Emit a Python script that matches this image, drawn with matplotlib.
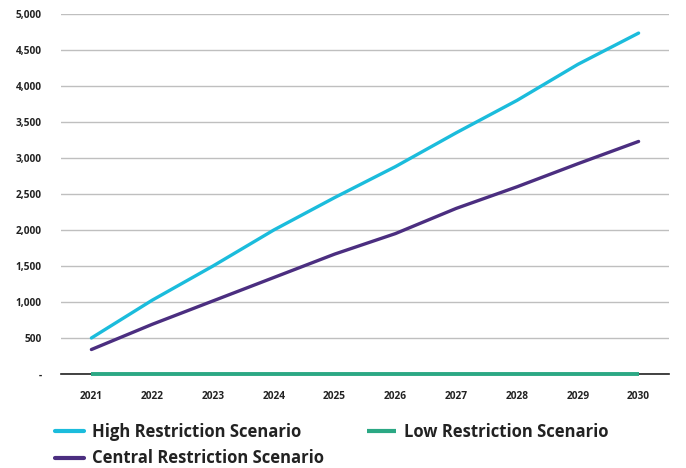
import matplotlib
matplotlib.use("Agg")
import matplotlib.pyplot as plt
from matplotlib.ticker import FuncFormatter

plt.rcParams['font.family'] = ['Open Sans', 'DejaVu Sans']

years = ["2021", "2022", "2023", "2024", "2025", "2026", "2027", "2028", "2029", "2030"]
high = [500, 1025, 1500, 2000, 2450, 2880, 3350, 3800, 4300, 4735]
central = [340, 690, 1015, 1340, 1665, 1950, 2300, 2600, 2920, 3230]
low = [0, 0, 0, 0, 0, 0, 0, 0, 0, 0]

c_high = "#1BBCDC"
c_central = "#4B2E80"
c_low = "#2BA884"

fig = plt.figure(figsize=(6.86, 4.68), dpi=100)
ax = fig.add_axes([61 / 686, 1 - 374 / 468, (669 - 61) / 686, (374 - 14) / 468])

x = list(range(len(years)))
l_high, = ax.plot(x, high, color=c_high, lw=2.4, solid_capstyle="round", zorder=3)
l_central, = ax.plot(x, central, color=c_central, lw=2.4, solid_capstyle="round", zorder=3)
l_low, = ax.plot(x, low, color=c_low, lw=2.8, solid_capstyle="butt", zorder=4, clip_on=False)

ax.set_xlim(-0.5, len(years) - 0.5)
ax.set_ylim(0, 5000)
ax.set_yticks(range(0, 5001, 500))
ax.yaxis.set_major_formatter(FuncFormatter(lambda v, p: "-" if v == 0 else f"{int(v):,}"))
ax.set_xticks(x)
ax.set_xticklabels(years)

ax.grid(axis="y", color="#BFBFBF", lw=1)
ax.set_axisbelow(True)
for s in ["top", "right", "left"]:
    ax.spines[s].set_visible(False)
ax.spines["bottom"].set_color("#222222")
ax.spines["bottom"].set_linewidth(1.2)
ax.spines["bottom"].set_zorder(2)

ax.tick_params(axis="both", length=0, labelsize=7.3, colors="#222222")
ax.tick_params(axis="y", pad=14)
ax.tick_params(axis="x", pad=12)
for t in ax.get_xticklabels() + ax.get_yticklabels():
    t.set_fontweight("bold")

leg = fig.legend([l_high, l_central, l_low],
                 ["High Restriction Scenario", "Central Restriction Scenario", "Low Restriction Scenario"],
                 ncol=2, loc="upper left", bbox_to_anchor=(40 / 686, 1 - 408 / 468),
                 frameon=False, handlelength=1.75, handletextpad=0.45,
                 columnspacing=2.6, labelspacing=0.5,
                 prop={"weight": "bold", "size": 12})
for h in leg.legend_handles:
    h.set_linewidth(3)
for t in leg.get_texts():
    t.set_color("#222222")

fig.savefig("out.png", dpi=100)
